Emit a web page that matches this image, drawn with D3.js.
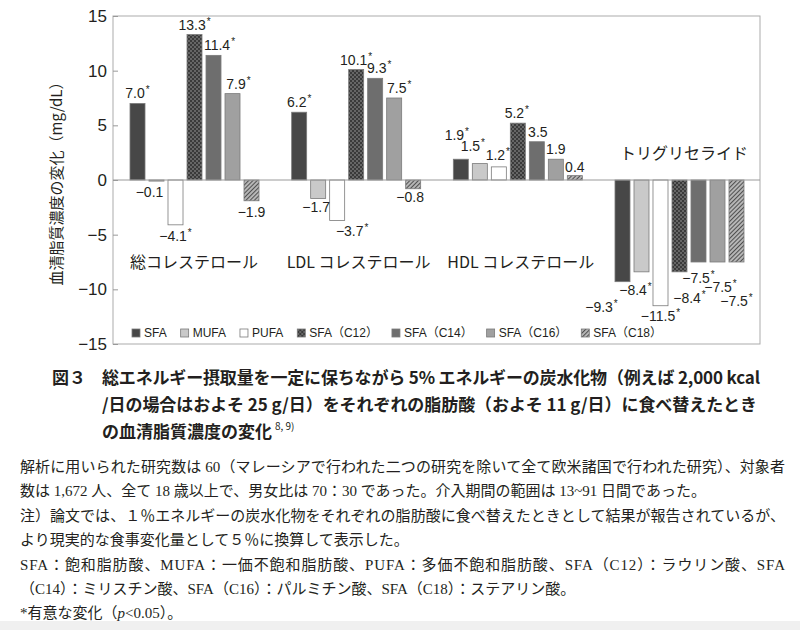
<!DOCTYPE html>
<html lang="ja">
<head>
<meta charset="UTF-8">
<title>図3 血清脂質濃度の変化</title>
<script src="https://cdn.jsdelivr.net/npm/d3@7"></script>
<style>
  body { margin: 0; background: #fff; }
  svg { display: block; }
  .num { font-family: "Liberation Sans", Arial, "Noto Sans CJK JP", sans-serif; fill: #231f20; }
  .jp { font-family: "Noto Sans CJK JP", sans-serif; fill: #231f20; }
  .body { font-family: "Liberation Serif", "Noto Sans CJK JP", serif; font-size: 15px; fill: #231f20; }
  .cap { font-family: "Noto Sans CJK JP", sans-serif; font-size: 17px; font-weight: bold; fill: #231f20; }
</style>
</head>
<body>
<script>
// ---------------- data ----------------
const groups = ["総コレステロール", "LDL コレステロール", "HDL コレステロール", "トリグリセライド"];
const series = ["SFA", "MUFA", "PUFA", "SFA（C12）", "SFA（C14）", "SFA（C16）", "SFA（C18）"];

// change in mg/dL, one value per series
const totalChol    = [7.0, -0.1, -4.1, 13.3, 11.4, 7.9, -1.9];
const ldlChol      = [6.2, -1.7, -3.7, 10.1, 9.3, 7.5, -0.8];
const hdlChol      = [1.9, 1.5, 1.2, 5.2, 3.5, 1.9, 0.4];
const triglyceride = [-9.3, -8.4, -11.5, -8.4, -7.5, -7.5, -7.5];

// 1 = significant (*)
const sigTotal = [1, 0, 1, 1, 1, 1, 0];
const sigLdl   = [1, 0, 1, 1, 1, 1, 0];
const sigHdl   = [1, 1, 1, 1, 0, 0, 0];
const sigTg    = [1, 1, 1, 1, 1, 1, 1];

const yTicks = [15, 10, 5, 0, -5, -10, -15];

// ---------------- layout ----------------
const width = 800, height = 630;
const frame = { left: 113, right: 760, top: 16, bottom: 344 };

const fills = ["#474747", "#c9c9c9", "#ffffff", "url(#dots)", "#6e6e6e", "#a0a0a0", "url(#hatch)"];

// small hand nudges for value labels (dx, dy px), same order as the data
const labelNudge = [
  [[0, 0], [-7, 0], [0, 0], [0, 0], [6, 0], [6, 0], [0, 0]],
  [[0, 0], [-2, -3], [15, 0], [0, 0], [4, 0], [5, 0], [-3, -3]],
  [[-4, -14], [-7, -8], [-1, -2], [-1, 0], [1, 0], [0, 0], [0, 1]],
  [[-21, 14], [-6, 7], [0, -1], [10, 15], [0, 5], [3, 14], [0, 28]]
];
// group label placement: dx from group start, dy from zero line
const groupLabelPos = [[0, 88], [-5, 88], [-6, 88], [5, -21]];

const values = [totalChol, ldlChol, hdlChol, triglyceride];
const sigs = [sigTotal, sigLdl, sigHdl, sigTg];

const svg = d3.select("body").append("svg")
  .attr("width", width)
  .attr("height", height);

// patterns
const defs = svg.append("defs");
const dots = defs.append("pattern").attr("id", "dots")
  .attr("patternUnits", "userSpaceOnUse").attr("width", 4).attr("height", 4);
dots.append("rect").attr("width", 4).attr("height", 4).attr("fill", "#3a3a3a");
dots.append("circle").attr("cx", 1).attr("cy", 1).attr("r", 0.7).attr("fill", "#b5b5b5");
dots.append("circle").attr("cx", 3).attr("cy", 3).attr("r", 0.7).attr("fill", "#b5b5b5");

const hatch = defs.append("pattern").attr("id", "hatch")
  .attr("patternUnits", "userSpaceOnUse").attr("width", 3).attr("height", 3)
  .attr("patternTransform", "rotate(45)");
hatch.append("rect").attr("width", 3).attr("height", 3).attr("fill", "#b8b8b8");
hatch.append("line").attr("x1", 0.5).attr("y1", 0).attr("x2", 0.5).attr("y2", 3)
  .attr("stroke", "#505050").attr("stroke-width", 1.1);

// scales
const y = d3.scaleLinear().domain([-15, 15]).range([frame.bottom, frame.top]);
const x0 = d3.scaleBand().domain(groups).range([130, 744]).paddingInner(0.202).paddingOuter(0);
const x1 = d3.scaleBand().domain(series).range([0, x0.bandwidth()]).paddingInner(0.21).paddingOuter(0);

// frame
svg.append("rect")
  .attr("x", frame.left).attr("y", frame.top)
  .attr("width", frame.right - frame.left).attr("height", frame.bottom - frame.top)
  .attr("fill", "none").attr("stroke", "#ababab").attr("stroke-width", 1);

// y axis
const yAxis = svg.append("g")
  .attr("class", "num")
  .attr("transform", `translate(${frame.left},0)`)
  .call(d3.axisLeft(y).tickValues(yTicks).tickSizeInner(-5).tickSizeOuter(0).tickPadding(6));
yAxis.select(".domain").remove();
yAxis.selectAll("line").attr("stroke", "#999");
yAxis.selectAll("text").attr("font-size", 17).attr("fill", "#231f20")
  .attr("font-family", "Liberation Sans, Arial, sans-serif");

svg.append("text")
  .attr("class", "jp")
  .attr("transform", `translate(55,${y(0)}) rotate(-90)`)
  .attr("text-anchor", "middle")
  .attr("dominant-baseline", "central")
  .attr("font-size", 15)
  .text("血清脂質濃度の変化（mg/dL）");

// flat rows
const rows = groups.flatMap((g, gi) => series.map((s, si) => ({
  g, s, gi, si, v: values[gi][si], sig: sigs[gi][si]
})));

// bars
svg.append("g").selectAll("rect")
  .data(rows)
  .join("rect")
  .attr("x", d => x0(d.g) + x1(d.s))
  .attr("y", d => y(Math.max(d.v, 0)))
  .attr("width", x1.bandwidth())
  .attr("height", d => Math.abs(y(d.v) - y(0)))
  .attr("fill", d => fills[d.si])
  .attr("stroke", "#7a7a7a")
  .attr("stroke-width", 0.8);

// zero line
svg.append("line")
  .attr("x1", frame.left).attr("x2", frame.right)
  .attr("y1", y(0)).attr("y2", y(0))
  .attr("stroke", "#9a9a9a").attr("stroke-width", 1);

// value labels
const fmt = d3.format(".1f");
const labels = svg.append("g").attr("class", "num").attr("font-size", 14)
  .selectAll("text")
  .data(rows)
  .join("text")
  .attr("text-anchor", "middle")
  .attr("x", d => x0(d.g) + x1(d.s) + x1.bandwidth() / 2 + labelNudge[d.gi][d.si][0])
  .attr("y", d => (d.v >= 0 ? y(d.v) - 5 : y(d.v) + 16) + labelNudge[d.gi][d.si][1])
  .text(d => fmt(d.v));
labels.filter(d => d.sig).append("tspan")
  .attr("font-size", 10).attr("dx", 1).attr("dy", -5).text("*");

// group labels
svg.append("g").attr("class", "jp").attr("font-size", 16)
  .selectAll("text")
  .data(groups)
  .join("text")
  .attr("x", (d, i) => x0(d) + groupLabelPos[i][0])
  .attr("y", (d, i) => y(0) + groupLabelPos[i][1])
  .text(d => d);

// legend
const legend = svg.append("g").attr("class", "num").attr("font-size", 12);
const items = series.map((s, i) => {
  const g = legend.append("g");
  g.append("rect").attr("x", 0).attr("y", -4).attr("width", 8).attr("height", 8)
    .attr("fill", fills[i]).attr("stroke", "#7a7a7a").attr("stroke-width", 0.8);
  g.append("text").attr("x", 12).attr("y", 0).attr("dy", "0.36em").text(s);
  return g;
});
const widths = items.map(g => g.node().getBBox().width);
const legendStart = 132, legendEnd = 662;
const gap = (legendEnd - legendStart - d3.sum(widths)) / (series.length - 1);
let lx = legendStart;
items.forEach((g, i) => {
  g.attr("transform", `translate(${lx},333)`);
  lx += widths[i] + gap;
});

// caption
svg.append("text").attr("class", "cap").attr("x", 52).attr("y", 384).text("図３");
svg.append("text").attr("class", "cap").attr("x", 102).attr("y", 384)
  .attr("textLength", 658).attr("lengthAdjust", "spacing")
  .text("総エネルギー摂取量を一定に保ちながら 5% エネルギーの炭水化物（例えば 2,000 kcal");
svg.append("text").attr("class", "cap").attr("x", 102).attr("y", 411)
  .attr("textLength", 655).attr("lengthAdjust", "spacing")
  .text("/日の場合はおよそ 25 g/日）をそれぞれの脂肪酸（およそ 11 g/日）に食べ替えたとき");
const cap3 = svg.append("text").attr("class", "cap").attr("x", 102).attr("y", 438)
  .text("の血清脂質濃度の変化");
cap3.append("tspan").attr("font-size", 10).attr("font-weight", "normal").attr("dx", 3).attr("dy", -8).text("8, 9)");

// notes
const noteLines = [
  { t: "解析に用いられた研究数は 60（マレーシアで行われた二つの研究を除いて全て欧米諸国で行われた研究）、対象者", full: true },
  { t: "数は 1,672 人、全て 18 歳以上で、男女比は 70：30 であった。介入期間の範囲は 13~91 日間であった。", full: false },
  { t: "注）論文では、１％エネルギーの炭水化物をそれぞれの脂肪酸に食べ替えたときとして結果が報告されているが、", full: true },
  { t: "より現実的な食事変化量として５％に換算して表示した。", full: false },
  { t: "SFA：飽和脂肪酸、MUFA：一価不飽和脂肪酸、PUFA：多価不飽和脂肪酸、SFA（C12）：ラウリン酸、SFA", full: true },
  { t: "（C14）：ミリスチン酸、SFA（C16）：パルミチン酸、SFA（C18）：ステアリン酸。", full: false }
];
noteLines.forEach((l, i) => {
  const t = svg.append("text").attr("class", "body").attr("x", 20).attr("y", 472 + i * 24.4).text(l.t);
  if (l.full) t.attr("textLength", 765).attr("lengthAdjust", "spacing");
});
const last = svg.append("text").attr("class", "body").attr("x", 20).attr("y", 472 + 6 * 24.4);
last.append("tspan").text("*有意な変化（");
last.append("tspan").attr("font-style", "italic").text("p");
last.append("tspan").text("<0.05）。");

// bottom strip
svg.append("rect").attr("x", 0).attr("y", 621).attr("width", width).attr("height", 9).attr("fill", "#f0f0f0");
</script>
</body>
</html>
